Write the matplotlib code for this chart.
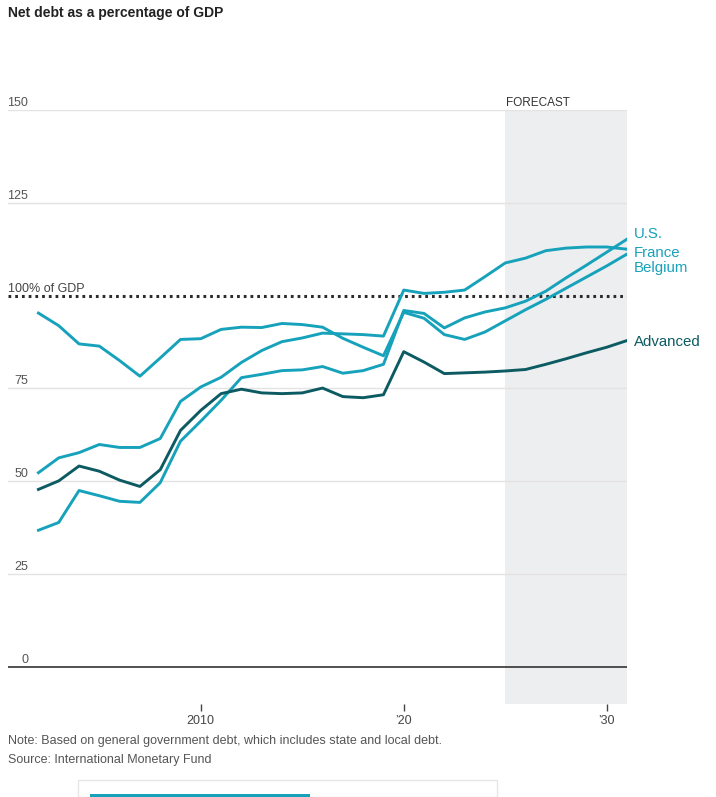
import numpy as np
import matplotlib
matplotlib.use('Agg')
import matplotlib.pyplot as plt
from matplotlib.patches import Rectangle
from matplotlib.transforms import blended_transform_factory

# net debt, % of GDP (IMF, forecast from 2025)
years = list(range(2002, 2032))
us = [36.8, 38.9, 47.5, 46.1, 44.6, 44.3, 49.6, 60.8, 66.2, 71.8,
      77.9, 78.8, 79.8, 80.0, 80.9, 79.1, 79.8, 81.5, 96.0, 95.2,
      91.3, 94.0, 95.6, 96.7, 98.5, 101.2, 104.8, 108.2, 111.7, 115.2]
belgium = [95.3, 91.9, 87.0, 86.4, 82.5, 78.3, 83.2, 88.2, 88.4, 90.9,
           91.5, 91.4, 92.5, 92.2, 91.5, 88.5, 86.1, 83.8, 95.5, 93.9,
           89.5, 88.2, 90.2, 93.2, 96.2, 99.0, 102.0, 105.0, 108.0, 111.2]
france = [52.3, 56.3, 57.7, 59.9, 59.1, 59.1, 61.5, 71.5, 75.4, 78.0,
          82.0, 85.2, 87.6, 88.6, 89.9, 89.7, 89.5, 89.1, 101.5, 100.6,
          100.9, 101.5, 105.1, 108.8, 110.1, 112.1, 112.8, 113.1, 113.1, 112.5]
advanced = [47.8, 50.1, 54.1, 52.7, 50.3, 48.6, 53.1, 63.7, 69.1, 73.6,
            74.8, 73.8, 73.6, 73.8, 75.1, 72.8, 72.5, 73.3, 84.9, 82.1,
            79.0, 79.2, 79.4, 79.7, 80.1, 81.5, 83.0, 84.6, 86.1, 87.9]

forecast_start = 2025
yticks = [0, 25, 50, 75, 125, 150]
xticks = [2010, 2020, 2030]
xtick_labels = ['2010', '\u201920', '\u201930']

# label name, y position of the end label
end_labels = [('U.S.', 116.7), ('France', 111.6), ('Belgium', 107.5), ('Advanced', 87.4)]

TEAL = '#17a2bb'
DARK = '#0d5b62'

plt.rcParams['font.family'] = ['Liberation Sans Narrow', 'Liberation Sans', 'DejaVu Sans']

W, H = 716, 797
fig = plt.figure(figsize=(W / 100, H / 100), dpi=100)
fx = lambda x: x / W
fy = lambda y: 1 - y / H

ax = fig.add_axes([fx(8), fy(704), fx(627) - fx(8), fy(110) - fy(704)])
ax.set_xlim(2000.5, 2031)
ax.set_ylim(-10, 150)

ax.axvspan(forecast_start, 2031, color='#edeef0', zorder=0, lw=0)

for v in yticks[1:]:
    ax.axhline(v, color='#e3e3e3', lw=1, zorder=1)
ax.axhline(0, color='#333333', lw=1.2, zorder=2)
ax.axhline(100, color='#2b2b2b', lw=2.2, ls=(0, (0.9, 1.3)), zorder=2)

for s in [france, belgium, us]:
    ax.plot(years, s, color=TEAL, lw=2.1, zorder=3, solid_joinstyle='round')
ax.plot(years, advanced, color=DARK, lw=2.1, zorder=4, solid_joinstyle='round')

trans = blended_transform_factory(ax.transAxes, ax.transData)
for v in yticks:
    ax.text(0.0325, v + 0.3, str(v), transform=trans, ha='right', va='bottom',
            fontsize=9, color='#555555')
ax.text(0.0, 100.2, '100% of GDP', transform=trans, ha='left', va='bottom',
        fontsize=9, color='#444444')
ax.text(forecast_start + 0.05, 150.3, 'FORECAST', ha='left', va='bottom',
        fontsize=8.5, color='#333333', clip_on=False)

for name, yv in end_labels:
    ax.text(2031.35, yv, name, ha='left', va='center', fontsize=10.8,
            color=DARK if name == 'Advanced' else TEAL, clip_on=False,
            family=['Liberation Sans', 'DejaVu Sans'])

ax.set_xticks(xticks)
ax.set_xticklabels(xtick_labels)
ax.set_yticks([])
ax.tick_params(axis='x', length=5, width=1, color='#444444', labelsize=9,
               labelcolor='#444444', pad=3)
for sp in ax.spines.values():
    sp.set_visible(False)

fig.text(fx(8), fy(13), 'Net debt as a percentage of GDP', fontsize=10,
         fontweight='bold', color='#222222', ha='left', va='center')
fig.text(fx(8), fy(741), 'Note: Based on general government debt, which includes state and local debt.',
         fontsize=9, color='#555555', ha='left', va='center')
fig.text(fx(8), fy(760), 'Source: International Monetary Fund',
         fontsize=9, color='#555555', ha='left', va='center')

# piece of the page below the chart
fig.patches.append(Rectangle((fx(78), 0), fx(497) - fx(78), fy(780), transform=fig.transFigure,
                             facecolor='white', edgecolor='#e6e6e6', lw=1))
fig.patches.append(Rectangle((fx(90), 0), fx(310) - fx(90), 3 / H, transform=fig.transFigure,
                             facecolor=TEAL, edgecolor='none'))

fig.savefig('out.png', dpi=100)
